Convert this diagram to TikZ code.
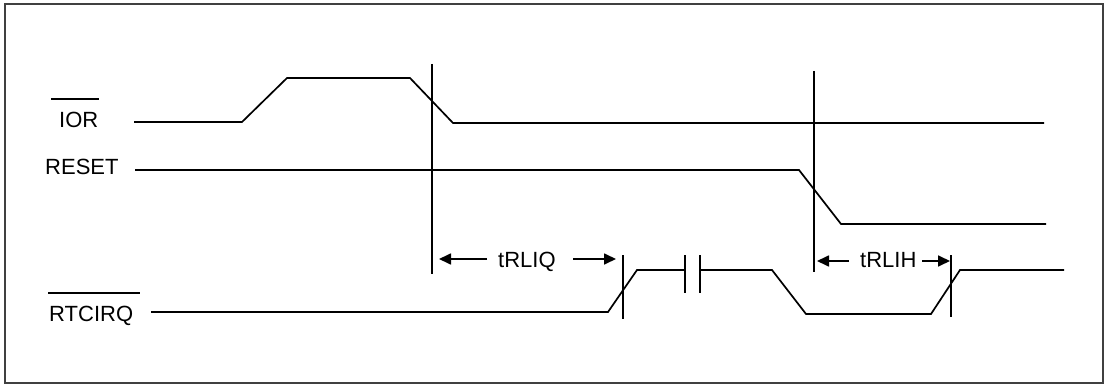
\documentclass[tikz,border=0pt]{standalone}
\usepackage{fontspec}
\setmainfont{Liberation Sans}
\usetikzlibrary{arrows.meta}
\begin{document}
\begin{tikzpicture}[x=1pt,y=-1pt,
  sig/.style={line width=1.7pt, line join=miter},
  marker/.style={line width=1.7pt},
  frame/.style={line width=1.2pt, draw=black!75},
  lbl/.style={inner sep=0pt, anchor=base west, font=\fontsize{22}{26}\selectfont},
  dim/.style={line width=1.7pt, -{Triangle[length=12pt,width=11pt]}}]
\useasboundingbox (0,0) rectangle (1106,385);
\draw[frame] (5,4) rectangle (1103,383);
% labels
\node[lbl] (ior) at (59,128) {IOR};
\draw[line width=1.3pt] (51,99) -- (99,99);
\node[lbl] (reset) at (45,175) {RESET};
\node[lbl] (rtc) at (49,321) {RTCIRQ};
\draw[line width=1.3pt] (48,293) -- (140,293);
% IOR waveform
\draw[sig] (134,122) -- (242,122) -- (287,78) -- (410,78) -- (453,123) -- (1044,123);
% RESET waveform
\draw[sig] (135,170) -- (799,170) -- (841,224) -- (1046,224);
% RTCIRQ waveform
\draw[sig] (151,312) -- (608,312) -- (637,270) -- (685,270);
\draw[marker] (685,255) -- (685,293);
\draw[marker] (700,255) -- (700,293);
\draw[sig] (700,270) -- (772,270) -- (806,314) -- (931,314) -- (960,270) -- (1064,270);
% reference lines
\coordinate (v1t) at (432,64); \coordinate (v1b) at (432,274);
\coordinate (v2t) at (814,71); \coordinate (v2b) at (814,272);
\coordinate (t1t) at (623,255); \coordinate (t1b) at (623,319);
\coordinate (t2t) at (951,255); \coordinate (t2b) at (951,317);
\draw[marker] (v1t) -- (v1b);
\draw[marker] (v2t) -- (v2b);
\draw[marker] (t1t) -- (t1b);
\draw[marker] (t2t) -- (t2b);
% timing labels
\node[lbl] (tq) at (498,267) {tRLIQ};
\node[lbl] (th) at (860,267) {tRLIH};
\coordinate (a1s) at (487,259); \coordinate (a1e) at (439,259);
\coordinate (a2s) at (573,259); \coordinate (a2e) at (616,259);
\coordinate (a3s) at (849,261); \coordinate (a3e) at (817,261);
\coordinate (a4s) at (922,261); \coordinate (a4e) at (950,261);
\draw[dim] (a1s) -- (a1e);
\draw[dim] (a2s) -- (a2e);
\draw[dim] (a3s) -- (a3e);
\draw[dim] (a4s) -- (a4e);
\end{tikzpicture}
\end{document}
